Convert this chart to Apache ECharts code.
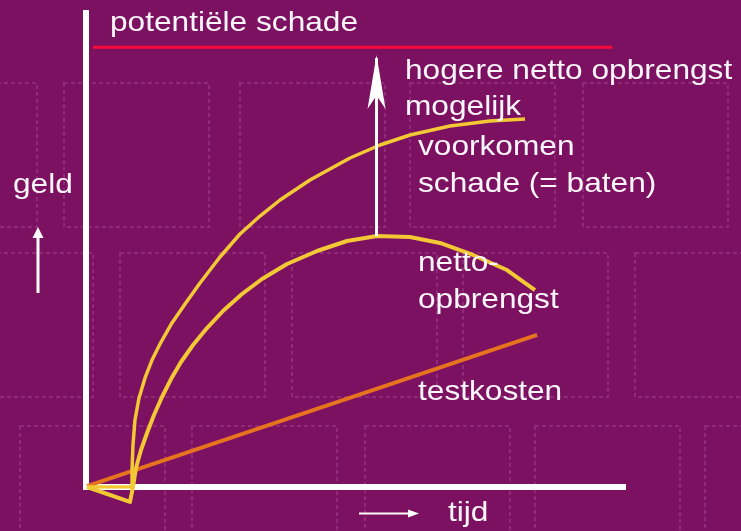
<!DOCTYPE html>
<html>
<head>
<meta charset="utf-8">
<script src="https://cdn.jsdelivr.net/npm/echarts@6/dist/echarts.min.js"></script>
<style>
  html, body { margin: 0; padding: 0; background: #7c1061; }
  #chart { width: 741px; height: 531px; }
</style>
</head>
<body>
<div id="chart"></div>
<script>
// Schematic: value of testing over time (x = tijd, y = geld), both on a 0–100 scale.

// Potential damage: a flat ceiling
const schadeX = [1.3, 98];
const schadeY = [92.8, 92.8];

// Prevented damage (= benefits)
const batenX = [0.19, 8.57, 8.57, 8.75, 9.12, 9.87, 10.99, 12.29, 13.97, 16.01, 18.44, 21.23, 24.95, 28.68, 32.40, 36.13, 41.71, 49.16, 54.75, 60.34, 67.78, 75.23, 81.75];
const batenY = [0, 0, 3.59, 8.86, 14.14, 18.78, 23.00, 26.79, 30.59, 34.60, 38.61, 43.04, 48.52, 53.38, 57.17, 60.55, 64.77, 69.41, 72.15, 74.26, 76.16, 77.22, 77.64];

// Net revenue = benefits minus test costs (starts below zero)
const nettoX = [0.19, 8.19, 8.75, 9.31, 10.24, 11.36, 12.66, 14.15, 15.83, 17.69, 19.93, 22.53, 25.51, 29.05, 32.77, 37.43, 43.02, 48.60, 54.19, 60.34, 65.92, 72.07, 78.40, 83.61];
const nettoY = [0, -3.16, 0, 4.01, 7.81, 11.39, 15.19, 18.99, 22.78, 26.37, 29.96, 33.54, 37.13, 40.72, 43.88, 47.05, 49.79, 51.90, 52.95, 52.74, 51.48, 48.95, 45.78, 41.56];

// Test costs grow linearly
const kostenX = [0.2, 84];
const kostenY = [0.2, 32.1];

// Room for a higher net revenue: from the net peak up towards the damage ceiling
const hogerX = [54.1, 54.1];
const hogerY = [52.9, 90.5];

// Text labels
const labels = [
  { text: 'potentiële schade', x: 110, base: 33 },
  { text: 'hogere netto opbrengst', x: 405, base: 81 },
  { text: 'mogelijk', x: 405, base: 117 },
  { text: 'voorkomen', x: 418, base: 157 },
  { text: 'schade (= baten)', x: 418, base: 194 },
  { text: 'geld', x: 13, base: 195 },
  { text: 'netto-', x: 418, base: 273 },
  { text: 'opbrengst', x: 418, base: 310 },
  { text: 'testkosten', x: 418, base: 402 },
  { text: 'tijd', x: 448, base: 523 }
];

// Backdrop: faint dashed squares in three offset rows
const squareRows = [
  { y: 83, xs: [-108, 64, 240, 410, 583] },
  { y: 253, xs: [-52, 120, 292, 463, 635] },
  { y: 426, xs: [20, 192, 365, 535, 705] }
];

const pair = (xs, ys) => xs.map((x, i) => [x, ys[i]]);

const FONT = '28px "Liberation Sans", Arial, sans-serif';
const TEXT_COLOR = '#fbf6fb';

const graphics = [];
squareRows.forEach(row => {
  row.xs.forEach(x => {
    graphics.push({
      type: 'rect', z: -10, silent: true,
      shape: { x: x, y: row.y, width: 145, height: 144 },
      style: { fill: 'none', stroke: 'rgba(255,200,240,0.15)', lineWidth: 2, lineDash: [4, 3] }
    });
  });
});
labels.forEach(l => {
  graphics.push({
    type: 'text', z: 50, x: l.x, y: l.base - 10, scaleX: 1.13,
    style: { text: l.text, font: FONT, fill: TEXT_COLOR, textAlign: 'left', textVerticalAlign: 'middle' }
  });
});
// small arrows beside the axis names
graphics.push(
  { type: 'line', z: 50, shape: { x1: 38, y1: 293, x2: 38, y2: 236 }, style: { stroke: '#fff', lineWidth: 3 } },
  { type: 'polygon', z: 50, shape: { points: [[38, 227], [32.5, 238], [43.5, 238]] }, style: { fill: '#fff' } },
  { type: 'line', z: 50, shape: { x1: 359, y1: 513.5, x2: 410, y2: 513.5 }, style: { stroke: '#fff', lineWidth: 2 } },
  { type: 'polygon', z: 50, shape: { points: [[419, 513.5], [408, 509.5], [408, 517.5]] }, style: { fill: '#fff' } }
);

const axisCommon = {
  type: 'value', min: 0, max: 100,
  axisLine: { show: true, onZero: false, lineStyle: { color: '#ffffff', width: 6, cap: 'square' } },
  axisTick: { show: false }, axisLabel: { show: false }, splitLine: { show: false }
};

const chart = echarts.init(document.getElementById('chart'), null, { renderer: 'canvas' });
chart.setOption({
  animation: false,
  backgroundColor: '#7c1061',
  grid: { left: 86, right: 118, top: 13, bottom: 44 },
  xAxis: axisCommon,
  yAxis: axisCommon,
  graphic: graphics,
  series: [
    {
      name: 'potentiële schade', type: 'line', data: pair(schadeX, schadeY),
      showSymbol: false, lineStyle: { color: '#ff0a3c', width: 3 }, z: 3
    },
    {
      name: 'testkosten', type: 'line', data: pair(kostenX, kostenY),
      showSymbol: false, lineStyle: { color: '#e6731e', width: 4 }, z: 3
    },
    {
      name: 'voorkomen schade (= baten)', type: 'line', data: pair(batenX, batenY),
      showSymbol: false, smooth: false, lineStyle: { color: '#f2c935', width: 3.5, join: 'round' }, z: 4
    },
    {
      name: 'netto-opbrengst', type: 'line', data: pair(nettoX, nettoY), clip: false,
      showSymbol: false, smooth: false, lineStyle: { color: '#f2c935', width: 4, join: 'round' }, z: 4
    },
    {
      name: 'hogere netto opbrengst mogelijk', type: 'line', data: pair(hogerX, hogerY),
      showSymbol: true, showAllSymbol: true,
      symbol: (value, params) => (params.dataIndex === hogerX.length - 1 ? 'arrow' : 'none'),
      symbolSize: [13.5, 54], symbolOffset: [0, -3],
      itemStyle: { color: '#ffffff' },
      lineStyle: { color: '#ffffff', width: 3 }, z: 5
    }
  ]
});
</script>
</body>
</html>
